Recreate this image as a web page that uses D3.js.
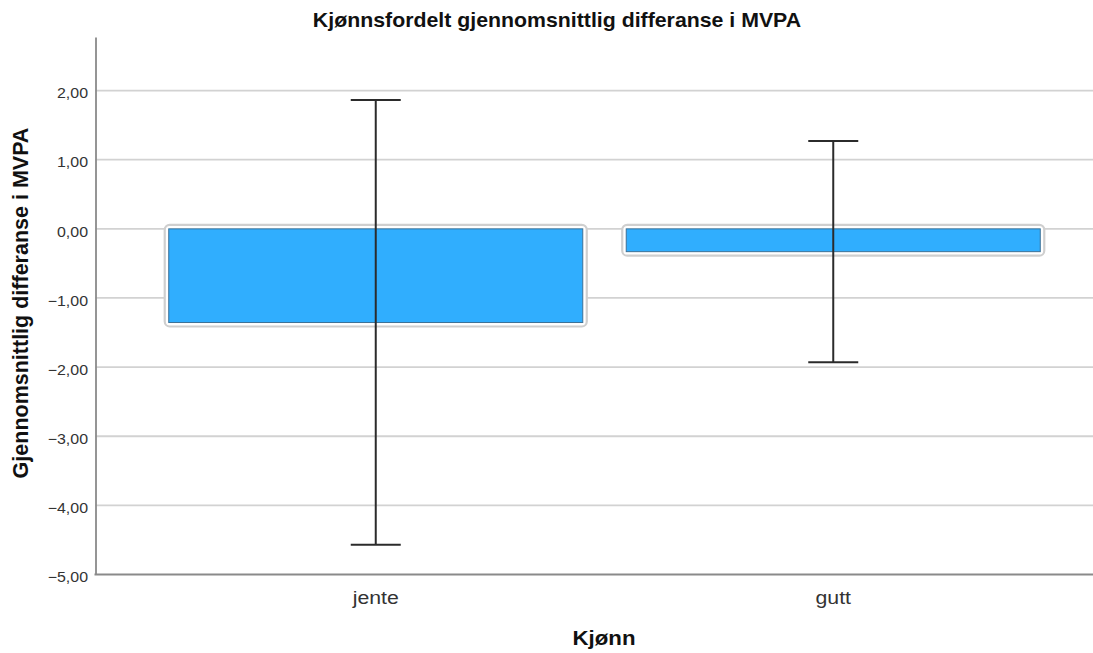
<!DOCTYPE html>
<html><head><meta charset="utf-8">
<script src="https://cdn.jsdelivr.net/npm/d3@7"></script>
<style>body{margin:0;background:#fff;} text{font-family:"Liberation Sans",Arial,sans-serif;}</style>
</head><body><svg id="c" width="1093" height="653"></svg>
<script>
const categories = ["jente", "gutt"];
const means = [-1.355, -0.33];
const ciLow = [-4.57, -1.93];
const ciHigh = [1.865, 1.27];
const yTicks = [2, 1, 0, -1, -2, -3, -4, -5];
const title = "Kjønnsfordelt gjennomsnittlig differanse i MVPA";
const xTitle = "Kjønn";
const yTitle = "Gjennomsnittlig differanse i MVPA";

const svg = d3.select("#c");
const y = d3.scaleLinear().domain([-5, 2.775]).range([574.5, 37]);
const x = d3.scaleBand().domain(categories).range([147, 1062]).paddingInner(0.095).paddingOuter(0.0475);
const axisX = 95.5, rightX = 1093;

// gridlines
svg.append("g").selectAll("line").data(yTicks.filter(d => d > -5)).join("line")
  .attr("x1", axisX).attr("x2", rightX).attr("y1", d => y(d)).attr("y2", d => y(d))
  .attr("stroke", "#d2d2d2").attr("stroke-width", 1.8);

// y axis
const fmt = d => d3.format(".2f")(d).replace(".", ",").replace("-", "\u2212");
const yAxis = d3.axisLeft(y).tickValues(yTicks).tickSize(0).tickPadding(8).tickFormat(fmt);
const gy = svg.append("g").attr("transform", `translate(${axisX},0)`).call(yAxis);
gy.select(".domain").attr("stroke", "#8a8a8a").attr("stroke-width", 1.8);
const sy = 1.1;
gy.selectAll(".tick text").attr("font-size", 14.5).attr("fill", "#333")
  .attr("font-family", "Liberation Sans, Arial, sans-serif").attr("dy", "0.5em")
  .attr("x", -7.5 / sy).attr("transform", `scale(${sy},1)`);

// x axis
const xAxis = d3.axisBottom(x).tickSize(0).tickPadding(16);
const gx = svg.append("g").attr("transform", `translate(0,${y(-5)})`).call(xAxis);
gx.select(".domain").remove();
gx.append("line").attr("x1", axisX - 1).attr("x2", rightX).attr("y1", 0).attr("y2", 0).attr("stroke", "#8a8a8a").attr("stroke-width", 1.8);
gx.selectAll(".tick text").attr("font-size", 18.5).attr("fill", "#333")
  .attr("font-family", "Liberation Sans, Arial, sans-serif").attr("transform", "scale(1.15,1)");

// bars with halo
const bw = x.bandwidth();
const bars = svg.append("g").selectAll("g").data(categories).join("g");
bars.append("rect")
  .attr("x", d => x(d) - 4).attr("width", bw + 8)
  .attr("y", (d, i) => Math.min(y(0), y(means[i])) - 4)
  .attr("height", (d, i) => Math.abs(y(means[i]) - y(0)) + 8)
  .attr("rx", 5).attr("fill", "#fff").attr("stroke", "#cfcfcf").attr("stroke-width", 2.2);
bars.append("rect")
  .attr("x", d => x(d)).attr("width", bw)
  .attr("y", (d, i) => Math.min(y(0), y(means[i])))
  .attr("height", (d, i) => Math.abs(y(means[i]) - y(0)))
  .attr("fill", "#30aefe").attr("stroke", "#3d7196").attr("stroke-width", 1);

// error bars
const eb = svg.append("g").selectAll("g").data(categories).join("g")
  .attr("stroke", "#2b2b2b").attr("stroke-width", 2);
eb.append("line").attr("x1", d => x(d) + bw / 2).attr("x2", d => x(d) + bw / 2)
  .attr("y1", (d, i) => y(ciHigh[i])).attr("y2", (d, i) => y(ciLow[i]));
eb.append("line").attr("x1", d => x(d) + bw / 2 - 25).attr("x2", d => x(d) + bw / 2 + 25)
  .attr("y1", (d, i) => y(ciHigh[i])).attr("y2", (d, i) => y(ciHigh[i]));
eb.append("line").attr("x1", d => x(d) + bw / 2 - 25).attr("x2", d => x(d) + bw / 2 + 25)
  .attr("y1", (d, i) => y(ciLow[i])).attr("y2", (d, i) => y(ciLow[i]));

// titles
svg.append("text").attr("transform", "translate(557,27) scale(1.065,1)").attr("text-anchor", "middle")
  .attr("font-size", 20).attr("font-weight", "bold").attr("fill", "#111").text(title);
svg.append("text").attr("transform", "translate(604,645) scale(1.06,1)").attr("text-anchor", "middle")
  .attr("font-size", 21).attr("font-weight", "bold").attr("fill", "#111").text(xTitle);
svg.append("text").attr("transform", "translate(28,303) rotate(-90)").attr("text-anchor", "middle")
  .attr("font-size", 21.5).attr("font-weight", "bold").attr("fill", "#111").text(yTitle);
</script></body></html>
